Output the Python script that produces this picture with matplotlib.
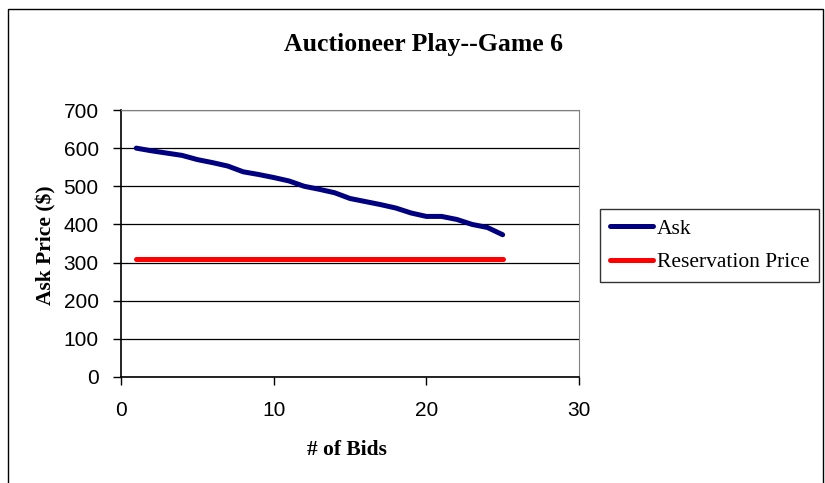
import matplotlib.pyplot as plt
from matplotlib.patches import Rectangle

# data
bids = list(range(1, 26))
ask = [600, 593, 587, 581, 570, 562, 553, 538, 531, 523,
       514, 500, 492, 483, 468, 460, 452, 443, 430, 421,
       421, 413, 400, 392, 373]
reservation = [310] * len(bids)

serif = ['Liberation Serif', 'DejaVu Serif']
sans = ['Liberation Sans', 'DejaVu Sans']

fig = plt.figure(figsize=(8.25, 4.83), dpi=100)
ax = fig.add_axes([121 / 825, 1 - 377 / 483, 458 / 825, 267 / 483])

ax.plot(bids, ask, color='#000080', lw=3.6, solid_capstyle='round', label='Ask')
ax.plot(bids, reservation, color='#ff0000', lw=3.6, solid_capstyle='round',
        label='Reservation Price')

ax.set_xlim(0, 30)
ax.set_ylim(0, 700)
ax.set_xticks([0, 10, 20, 30])
ax.set_yticks(range(0, 701, 100))
ax.yaxis.grid(True, color='black', lw=0.9)
ax.set_axisbelow(True)
for lbl in ax.get_xticklabels() + ax.get_yticklabels():
    lbl.set_family(sans)
    lbl.set_fontsize(15)
ax.tick_params(direction='out', length=6, width=1, color='black')
ax.tick_params(axis='y', pad=10)
ax.tick_params(axis='x', pad=11)
ax.spines['top'].set_color('#808080')
ax.spines['right'].set_color('#808080')
ax.spines['left'].set_linewidth(1.2)
ax.spines['bottom'].set_linewidth(1.2)

fig.text(423 / 825, 1 - 44 / 483, 'Auctioneer Play--Game 6', family=serif,
         weight='bold', fontsize=18.5, ha='center', va='center')
fig.text(46 / 825, 1 - 245 / 483, 'Ask Price ($)', family=serif, weight='bold',
         fontsize=15.5, rotation=90, ha='center', va='center')
fig.text(347 / 825, 1 - 450 / 483, '# of Bids', family=serif, weight='bold',
         fontsize=15.5, ha='center', va='center')

leg = fig.legend(loc='upper left', bbox_to_anchor=(600 / 825, 1 - 209 / 483),
                 prop={'family': serif, 'size': 15.5}, frameon=True,
                 fancybox=False, edgecolor='black', handlelength=2.0,
                 handletextpad=0.2, labelspacing=0.62, borderpad=0.45,
                 borderaxespad=0)
leg.get_frame().set_linewidth(1.0)

fig.patches.append(Rectangle((8 / 825, -0.05), 815 / 825, 1.05 - 9 / 483,
                             transform=fig.transFigure, fill=False,
                             edgecolor='black', lw=1.0))

fig.savefig('out.png', dpi=100)
